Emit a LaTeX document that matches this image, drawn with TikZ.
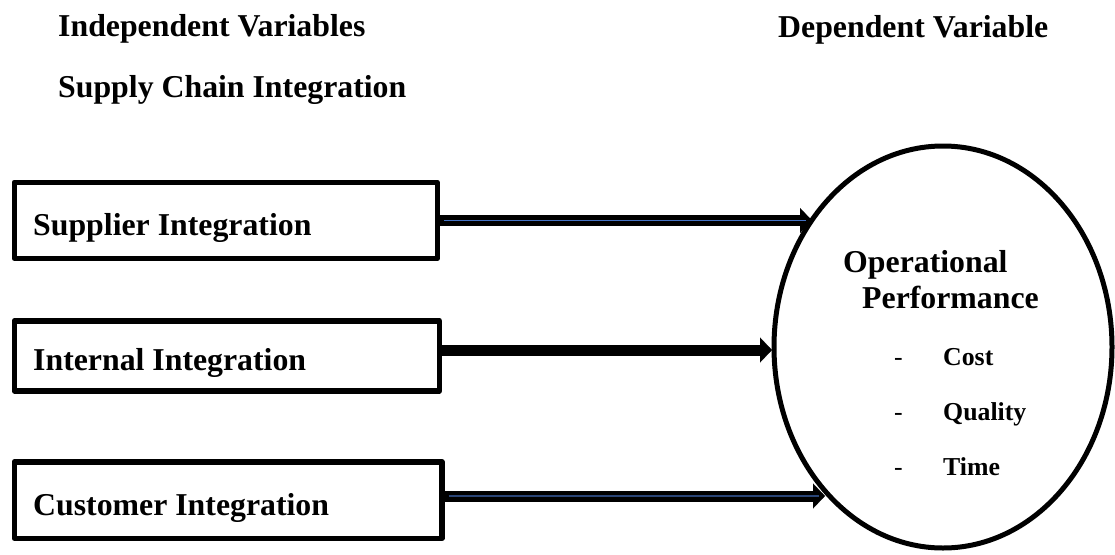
\documentclass[tikz,border=0pt]{standalone}
\usepackage{fontspec}
\setmainfont{Liberation Serif}
\usetikzlibrary{shapes.geometric,arrows.meta}
\definecolor{lineblue}{HTML}{4472C4}
\tikzset{
  lbl/.style={inner sep=0pt, anchor=base west, font=\bfseries\fontsize{31.8}{36}\selectfont},
  sublbl/.style={inner sep=0pt, anchor=base west, font=\bfseries\fontsize{25.8}{30}\selectfont},
  dashlbl/.style={inner sep=0pt, anchor=base west, font=\fontsize{25.8}{30}\selectfont},
  varbox/.style={draw, line width=5.5pt, rectangle, inner sep=0pt, anchor=north west, line join=round},
  opell/.style={draw, line width=5pt, ellipse, inner sep=0pt},
  bigarrow/.style={line width=11pt, -{Triangle[length=12pt,width=25pt,line width=0.1pt]}},
  blueline/.style={draw=lineblue, line width=1.2pt, shorten >=6pt},
}
\begin{document}
\begin{tikzpicture}[x=1pt,y=-1pt]
\useasboundingbox (0,0) rectangle (1115,554);

% headers
\node[lbl] (hind) at (58,36) {Independent Variables};
\node[lbl] (hsci) at (58,97) {Supply Chain Integration};
\node[lbl] (hdep) at (778,37) {Dependent Variable};

% boxes
\node[varbox, minimum width=423pt, minimum height=76pt] (s1) at (11.5,179.5) {};
\node[varbox, minimum width=425pt, minimum height=70pt] (s2) at (11.5,318) {};
\node[varbox, minimum width=427.5pt, minimum height=76.5pt] (s3) at (11.5,459) {};
\node[lbl] (t1) at (33,235) {Supplier Integration};
\node[lbl] (t2) at (33,370) {Internal Integration};
\node[lbl] (t3) at (33,515) {Customer Integration};

% ellipse
\node[opell, minimum width=338pt, minimum height=402pt] (op) at (943,347) {};
\node[lbl] (o1) at (843,272) {Operational};
\node[lbl] (o2) at (862,308) {Performance};
\node[dashlbl] (d1) at (894,365) {-};
\node[dashlbl] (d2) at (894,420) {-};
\node[dashlbl] (d3) at (894,475) {-};
\node[sublbl] (c1) at (943,365) {Cost};
\node[sublbl] (c2) at (943,420) {Quality};
\node[sublbl] (c3) at (943,475) {Time};

% arrow end points on the ellipse border
\coordinate (a1s) at (s1.east |- 0,220.5);
\coordinate (a2s) at (s2.east |- 0,350);
\coordinate (a3s) at (s3.east |- 0,496);
\coordinate (e1) at (812,220.5);
\coordinate (e2) at (772,350);
\coordinate (e3) at (825,496);

\draw[bigarrow] (a1s) -- (e1);
\draw[blueline] ([xshift=4pt]a1s) -- (e1);
\draw[bigarrow] (a2s) -- (e2);
\draw[bigarrow] (a3s) -- (e3);
\draw[blueline, draw=lineblue!60!black] ([xshift=4pt]a3s) -- (e3);
\end{tikzpicture}
\end{document}
